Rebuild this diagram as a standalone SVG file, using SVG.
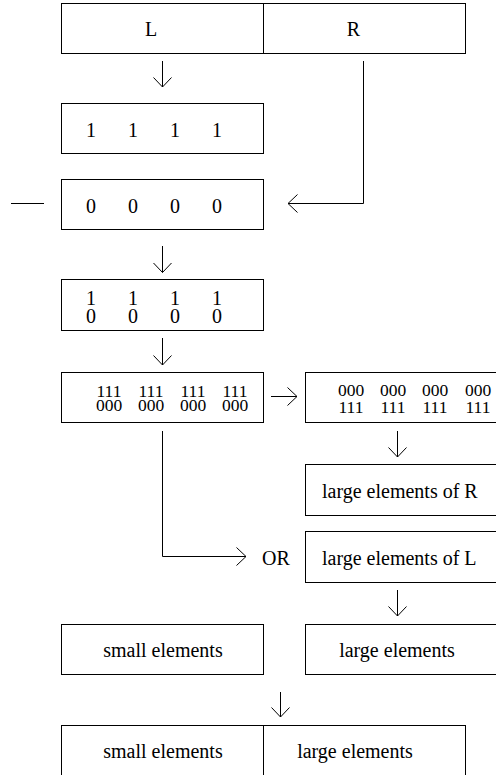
<svg xmlns="http://www.w3.org/2000/svg" width="496" height="775" viewBox="0 0 496 775">
<style>
.box{fill:#fff;stroke:#000;stroke-width:1}
.ln{fill:none;stroke:#000;stroke-width:1}
.t{font-family:'Liberation Serif','DejaVu Serif',serif;font-size:20px;fill:#000}
.c{text-anchor:middle}
.s{font-size:17.5px}
</style>
<defs>
<marker id="ah" viewBox="0 0 10 20" refX="10" refY="10" markerWidth="10" markerHeight="20" markerUnits="userSpaceOnUse" orient="auto">
<path d="M0.5,1 L10,10 L0.5,19" fill="none" stroke="#000" stroke-width="1"/>
</marker>
</defs>
<rect width="496" height="775" fill="#fff"/>
<g id="connectors">
<line class="ln" x1="162.5" y1="61" x2="162.5" y2="87" marker-end="url(#ah)"/>
<path class="ln" d="M363.5,61 V203.5 H288" marker-end="url(#ah)"/>
<line class="ln" x1="11" y1="203.5" x2="44" y2="203.5"/>
<line class="ln" x1="162.5" y1="246" x2="162.5" y2="272.5" marker-end="url(#ah)"/>
<line class="ln" x1="162.5" y1="338" x2="162.5" y2="365" marker-end="url(#ah)"/>
<line class="ln" x1="271" y1="396.5" x2="297" y2="396.5" marker-end="url(#ah)"/>
<line class="ln" x1="397.5" y1="431" x2="397.5" y2="457" marker-end="url(#ah)"/>
<path class="ln" d="M162.5,431 V556.5 H246" marker-end="url(#ah)"/>
<line class="ln" x1="397.5" y1="590" x2="397.5" y2="616" marker-end="url(#ah)"/>
<line class="ln" x1="280.5" y1="692" x2="280.5" y2="717" marker-end="url(#ah)"/>
</g>
<g id="n-top">
<rect class="box" x="61.5" y="3.5" width="404" height="50"/>
<line class="ln" x1="263.5" y1="3.5" x2="263.5" y2="53.5"/>
<text class="t c" x="151" y="36">L</text>
<text class="t c" x="353.5" y="36">R</text>
</g>
<g id="n-ones">
<rect class="box" x="61.5" y="103.5" width="202" height="50"/>
<text class="t c" x="91" y="137">1</text>
<text class="t c" x="133" y="137">1</text>
<text class="t c" x="175" y="137">1</text>
<text class="t c" x="217" y="137">1</text>
</g>
<g id="n-zeros">
<rect class="box" x="61.5" y="179.5" width="202" height="50"/>
<text class="t c" x="91" y="213">0</text>
<text class="t c" x="133" y="213">0</text>
<text class="t c" x="175" y="213">0</text>
<text class="t c" x="217" y="213">0</text>
</g>
<g id="n-pairs">
<rect class="box" x="61.5" y="279.5" width="202" height="51"/>
<text class="t c"><tspan x="91" y="305">1</tspan><tspan x="91" y="322.5">0</tspan></text>
<text class="t c"><tspan x="133" y="305">1</tspan><tspan x="133" y="322.5">0</tspan></text>
<text class="t c"><tspan x="175" y="305">1</tspan><tspan x="175" y="322.5">0</tspan></text>
<text class="t c"><tspan x="217" y="305">1</tspan><tspan x="217" y="322.5">0</tspan></text>
</g>
<g id="n-triples-l">
<rect class="box" x="61.5" y="372.5" width="202" height="50"/>
<text class="t c s"><tspan x="109" y="396.5">111</tspan><tspan x="109" y="410.5">000</tspan></text>
<text class="t c s"><tspan x="151" y="396.5">111</tspan><tspan x="151" y="410.5">000</tspan></text>
<text class="t c s"><tspan x="193" y="396.5">111</tspan><tspan x="193" y="410.5">000</tspan></text>
<text class="t c s"><tspan x="235" y="396.5">111</tspan><tspan x="235" y="410.5">000</tspan></text>
</g>
<g id="n-triples-r">
<rect class="box" x="305.5" y="372.5" width="205" height="50"/>
<text class="t c s"><tspan x="351" y="396">000</tspan><tspan x="351" y="413">111</tspan></text>
<text class="t c s"><tspan x="393" y="396">000</tspan><tspan x="393" y="413">111</tspan></text>
<text class="t c s"><tspan x="435" y="396">000</tspan><tspan x="435" y="413">111</tspan></text>
<text class="t c s"><tspan x="478" y="396">000</tspan><tspan x="478" y="413">111</tspan></text>
</g>
<g id="n-large-r">
<rect class="box" x="305.5" y="464.5" width="205" height="51"/>
<text class="t" x="322" y="498">large elements of R</text>
</g>
<g id="n-or">
<text class="t" x="262" y="565">OR</text>
</g>
<g id="n-large-l">
<rect class="box" x="305.5" y="531.5" width="205" height="51"/>
<text class="t" x="322" y="565">large elements of L</text>
</g>
<g id="n-small">
<rect class="box" x="61.5" y="624.5" width="202" height="50"/>
<text class="t c" x="163" y="657">small elements</text>
</g>
<g id="n-large">
<rect class="box" x="305.5" y="624.5" width="205" height="50"/>
<text class="t c" x="397" y="657">large elements</text>
</g>
<g id="n-bottom">
<rect class="box" x="61.5" y="725.5" width="404" height="60"/>
<line class="ln" x1="263.5" y1="725.5" x2="263.5" y2="785"/>
<text class="t c" x="163" y="758">small elements</text>
<text class="t c" x="355" y="758">large elements</text>
</g>
</svg>
